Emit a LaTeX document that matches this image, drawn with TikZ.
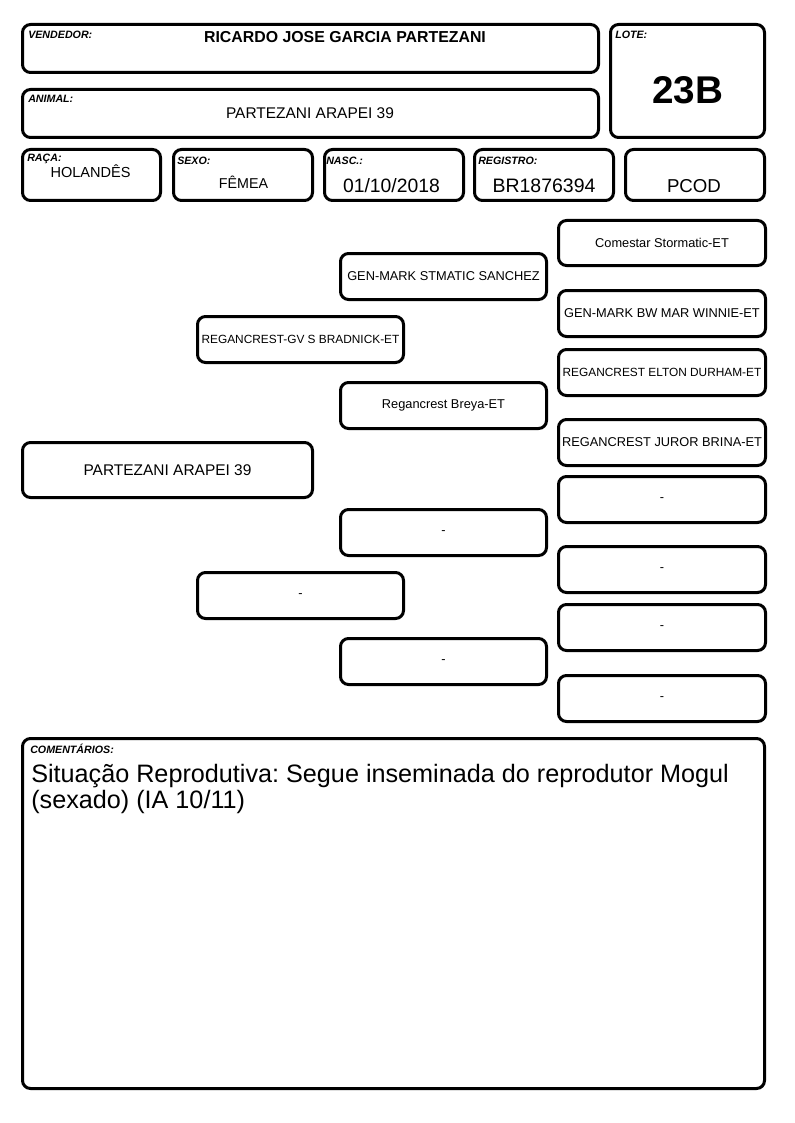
\documentclass[tikz,border=0pt]{standalone}
\usepackage{fontspec}
\setmainfont{Liberation Sans}
\frenchspacing
\tikzset{
  boxst/.style={draw=black, line width=2.25pt, rounded corners=6pt, inner sep=0pt, align=center},
  lbl/.style={anchor=base west, inner sep=0pt, font=\fontsize{8}{9.5}\selectfont\bfseries\itshape},
  val/.style={anchor=base, inner sep=0pt},
  pedA/.style={font=\fontsize{9.6}{11}\selectfont},
  pedB/.style={font=\fontsize{8.9}{11}\selectfont},
  pedC/.style={font=\fontsize{11.6}{14}\selectfont},
}
\newcommand\bx[7]{%
  \node[boxst, #2, minimum width={(#5-#3-3)*0.75pt}, minimum height={(#6-#4-3)*0.75pt}] (#1) at ({(#3+#5)/2},{(#4+#6)/2}) {#7};}
\begin{document}
\begin{tikzpicture}[x=0.75pt, y=-0.75pt]
\useasboundingbox[fill=white] (0,0) rectangle (794,1123);
% header boxes
\bx{vend}{}{21}{23}{600}{74}{}
\bx{lote}{}{609}{23}{766}{139}{}
\bx{anim}{}{21}{88}{600}{139}{}
\bx{raca}{}{21}{148}{162}{202}{}
\bx{sexo}{}{172}{148}{314}{202}{}
\bx{nasc}{}{323}{148}{465}{202}{}
\bx{reg}{}{473}{148}{615}{202}{}
\bx{pcod}{}{624}{148}{766}{202}{}
% labels
\node[lbl] (lvend) at (28,39) {VENDEDOR:};
\node[lbl] (llote) at (615,39) {LOTE:};
\node[lbl] (lanim) at (28,103) {ANIMAL:};
\node[lbl] (lraca) at (27,162) {RAÇA:};
\node[lbl] (lsexo) at (177,165) {SEXO:};
\node[lbl] (lnasc) at (326,165) {NASC.:};
\node[lbl] (lreg) at (478,165) {REGISTRO:};
% values
\node[val, font=\fontsize{11.9}{14}\selectfont\bfseries] (vname) at (345,43) {RICARDO JOSE GARCIA PARTEZANI};
\node[val, font=\fontsize{29}{32}\selectfont\bfseries] (vlote) at (687.5,104) {23B};
\node[val, font=\fontsize{11.6}{14}\selectfont] (vanim) at (310,119) {PARTEZANI ARAPEI 39};
\node[val, font=\fontsize{10.9}{13}\selectfont] (vraca) at (90.5,178) {HOLANDÊS};
\node[val, font=\fontsize{10.7}{13}\selectfont] (vsexo) at (243.5,189) {FÊMEA};
\node[val, font=\fontsize{14.5}{17}\selectfont] (vnasc) at (391.5,193) {01/10/2018};
\node[val, font=\fontsize{14.6}{17}\selectfont] (vreg) at (544,193) {BR1876394};
\node[val, font=\fontsize{14}{17}\selectfont] (vpcod) at (694,193) {PCOD};
% pedigree
\bx{p0}{pedC}{21}{441}{314}{499}{PARTEZANI ARAPEI 39}
\bx{s1}{pedB}{196}{315}{405}{364}{REGANCREST-GV S BRADNICK-ET}
\bx{d1}{pedA}{196}{571}{405}{620}{-}
\bx{ss}{pedA}{339}{252}{548}{301}{GEN-MARK STMATIC SANCHEZ}
\bx{sd}{pedA}{339}{381}{548}{430}{Regancrest Breya-ET}
\bx{ds}{pedA}{339}{508}{548}{557}{-}
\bx{dd}{pedA}{339}{637}{548}{686}{-}
\bx{sss}{pedA}{557}{219}{767}{267}{Comestar Stormatic-ET}
\bx{ssd}{pedA}{557}{289}{767}{338}{GEN-MARK BW MAR WINNIE-ET}
\bx{sds}{pedB}{557}{348}{767}{397}{REGANCREST ELTON DURHAM-ET}
\bx{sdd}{pedA}{557}{418}{767}{467}{REGANCREST JUROR BRINA-ET}
\bx{dss}{pedA}{557}{475}{767}{524}{-}
\bx{dsd}{pedA}{557}{545}{767}{594}{-}
\bx{dds}{pedA}{557}{603}{767}{652}{-}
\bx{ddd}{pedA}{557}{674}{767}{723}{-}
% comments
\bx{com}{}{21}{737}{766}{1090}{}
\node[lbl] (lcom) at (30,753) {COMENTÁRIOS:};
\node[anchor=base west, inner sep=0pt, align=left, font=\fontsize{18.9}{19.5}\selectfont] (vcom) at (31,808)
  {Situação Reprodutiva: Segue inseminada do reprodutor Mogul\\(sexado) (IA 10/11)};
\end{tikzpicture}
\end{document}
